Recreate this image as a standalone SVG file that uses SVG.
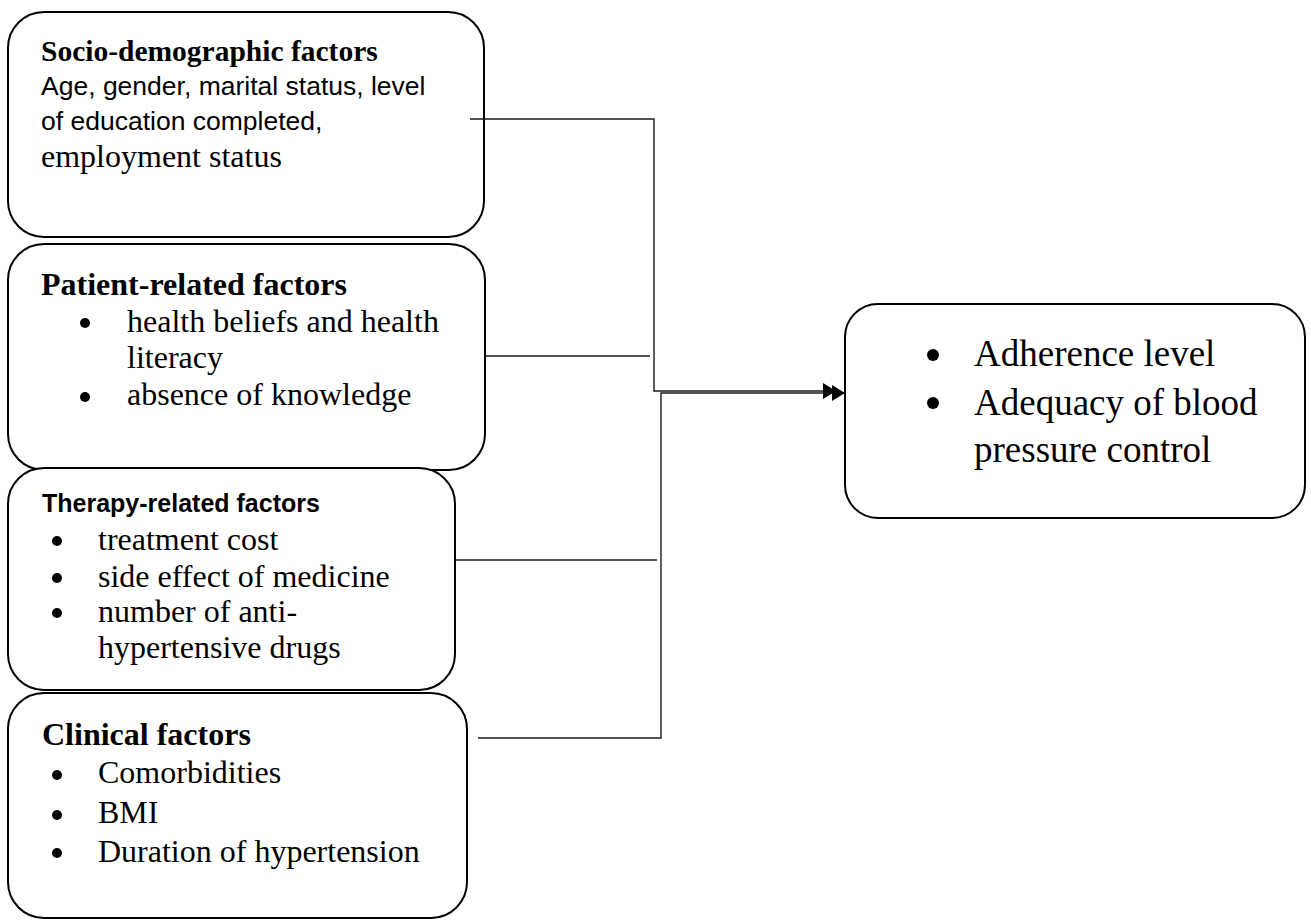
<svg xmlns="http://www.w3.org/2000/svg" width="1311" height="920" viewBox="0 0 1311 920">
  <style>
    .box { fill: #ffffff; stroke: #000000; stroke-width: 2; }
    .conn { fill: none; stroke: #1a1a1a; stroke-width: 1.4; }
    .serif { font-family: "Liberation Serif", "Times New Roman", serif; fill: #000; }
    .sans { font-family: "Liberation Sans", Arial, sans-serif; fill: #000; }
    .h { font-weight: bold; font-size: 32px; }
    .body { font-size: 32px; }
    .big { font-size: 37px; }
    .dot { fill: #000; }
  </style>
  <defs>
    <marker id="arrow" markerUnits="userSpaceOnUse" markerWidth="14" markerHeight="16" refX="13" refY="8" orient="auto">
      <path d="M0,0 L13,8 L0,16 Z" fill="#000"/>
    </marker>
  </defs>
  <rect width="1311" height="920" fill="#ffffff"/>

  <g id="socio-demographic">
    <rect class="box" x="8" y="12" width="476" height="225" rx="36" ry="36"/>
    <text class="serif" font-weight="bold" font-size="29.5" x="41" y="61">Socio-demographic factors</text>
    <text class="sans" font-size="26.5" x="41" y="95">Age, gender, marital status, level</text>
    <text class="sans" font-size="26.5" x="41" y="130">of education completed,</text>
    <text class="serif body" x="41" y="167">employment status</text>
  </g>

  <g id="patient-related">
    <rect class="box" x="8" y="244" width="477" height="226" rx="36" ry="36"/>
    <text class="serif h" x="41" y="295">Patient-related factors</text>
    <circle class="dot" cx="85" cy="323" r="5"/>
    <text class="serif body" x="127" y="332">health beliefs and health</text>
    <text class="serif body" x="127" y="368">literacy</text>
    <circle class="dot" cx="85" cy="397" r="5"/>
    <text class="serif body" x="127" y="405">absence of knowledge</text>
  </g>

  <g id="therapy-related">
    <rect class="box" x="8" y="468" width="447" height="222" rx="36" ry="36"/>
    <text class="sans" font-weight="bold" font-size="25" x="42" y="512">Therapy-related factors</text>
    <circle class="dot" cx="57" cy="541" r="5"/>
    <text class="serif body" x="98" y="550">treatment cost</text>
    <circle class="dot" cx="57" cy="578" r="5"/>
    <text class="serif body" x="98" y="587">side effect of medicine</text>
    <circle class="dot" cx="57" cy="613" r="5"/>
    <text class="serif body" x="98" y="622">number of anti-</text>
    <text class="serif body" x="98" y="658">hypertensive drugs</text>
  </g>

  <g id="clinical">
    <rect class="box" x="8" y="693" width="459" height="225" rx="36" ry="36"/>
    <text class="serif h" x="42" y="745">Clinical factors</text>
    <circle class="dot" cx="57" cy="775" r="5"/>
    <text class="serif body" x="98" y="783">Comorbidities</text>
    <circle class="dot" cx="57" cy="815" r="5"/>
    <text class="serif body" x="98" y="823">BMI</text>
    <circle class="dot" cx="57" cy="853" r="5"/>
    <text class="serif body" x="98" y="862">Duration of hypertension</text>
  </g>

  <g id="outcome">
    <rect class="box" x="845" y="304" width="460" height="214" rx="33" ry="33"/>
    <circle class="dot" cx="933" cy="355" r="6"/>
    <text class="serif big" x="974" y="366">Adherence level</text>
    <circle class="dot" cx="933" cy="403" r="6"/>
    <text class="serif big" x="974" y="415">Adequacy of blood</text>
    <text class="serif big" x="974" y="462">pressure control</text>
  </g>

  <g id="connectors">
    <polyline class="conn" points="470,119 654,119 654,391 836,391" marker-end="url(#arrow)"/>
    <polyline class="conn" points="478,738 661,738 661,393 845,393" marker-end="url(#arrow)"/>
    <line class="conn" x1="485" y1="356" x2="650" y2="356"/>
    <line class="conn" x1="455" y1="560" x2="657" y2="560"/>
  </g>
</svg>
